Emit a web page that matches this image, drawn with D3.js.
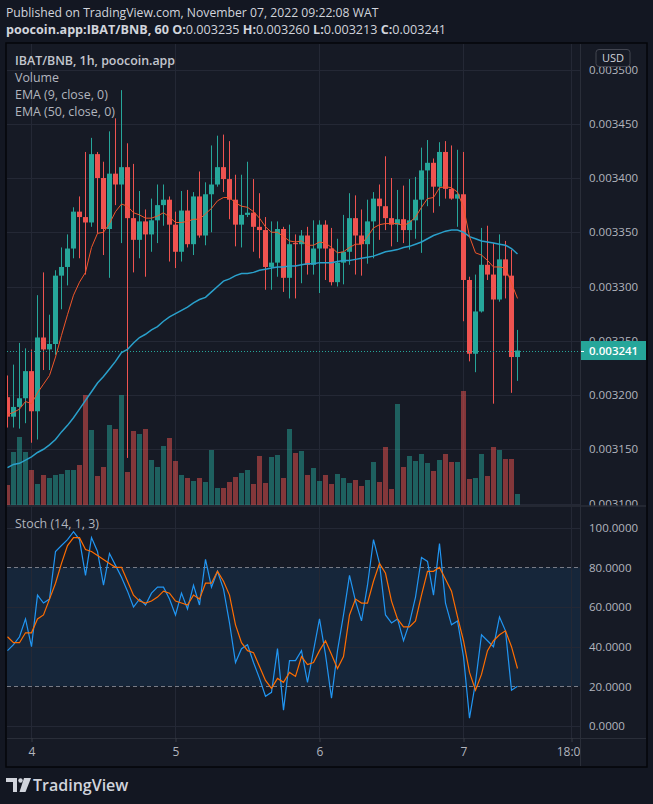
<!DOCTYPE html>
<html><head><meta charset="utf-8">
<script src="https://cdn.jsdelivr.net/npm/d3@7"></script>
<style>
html,body{margin:0;padding:0;background:#131722;}
svg{display:block;}
text{font-family:"Open Sans","Liberation Sans",sans-serif;}
</style></head><body>
<svg id="c" width="653" height="804"></svg>
<script>
// ---- DATA (hourly candles, IBAT/BNB, from Nov 3 20:00 to Nov 7 09:00) ----
const startTime = Date.UTC(2022, 10, 3, 20);
const opens = [0.003198,0.003180,0.003189,0.003197,0.003222,0.003185,0.003253,0.003242,0.003247,0.003310,
0.003318,0.003335,0.003369,0.003364,0.003359,0.003422,0.003400,0.003353,0.003404,0.003394,
0.003410,0.003363,0.003343,0.003360,0.003348,0.003361,0.003375,0.003380,0.003357,0.003332,
0.003370,0.003339,0.003383,0.003347,0.003385,0.003394,0.003410,0.003399,0.003380,0.003357,
0.003366,0.003368,0.003355,0.003352,0.003318,0.003322,0.003353,0.003308,0.003340,0.003339,
0.003347,0.003320,0.003335,0.003357,0.003335,0.003304,0.003322,0.003332,0.003363,0.003347,
0.003339,0.003360,0.003381,0.003374,0.003363,0.003357,0.003362,0.003352,0.003361,0.003380,
0.003407,0.003414,0.003392,0.003424,0.003390,0.003381,0.003385,0.003306,0.003238,0.003277,
0.003320,0.003311,0.003288,0.003325,0.003310,0.003235];
const highs = [0.003218,0.003228,0.003248,0.003243,0.003242,0.003292,0.003313,0.003274,0.003315,0.003336,
0.003348,0.003373,0.003383,0.003424,0.003437,0.003424,0.003415,0.003443,0.003455,0.003481,
0.003432,0.003413,0.003388,0.003371,0.003381,0.003394,0.003394,0.003383,0.003369,0.003388,
0.003389,0.003387,0.003406,0.003396,0.003430,0.003439,0.003440,0.003434,0.003403,0.003403,
0.003415,0.003399,0.003386,0.003364,0.003360,0.003360,0.003355,0.003357,0.003348,0.003352,
0.003355,0.003361,0.003361,0.003361,0.003354,0.003344,0.003366,0.003386,0.003384,0.003371,
0.003380,0.003387,0.003394,0.003420,0.003400,0.003389,0.003393,0.003399,0.003401,0.003428,
0.003435,0.003418,0.003433,0.003434,0.003430,0.003426,0.003424,0.003309,0.003311,0.003354,
0.003356,0.003340,0.003348,0.003342,0.003334,0.003260];
const lows = [0.003170,0.003170,0.003169,0.003174,0.003156,0.003159,0.003223,0.003223,0.003237,0.003279,
0.003301,0.003326,0.003326,0.003311,0.003355,0.003349,0.003329,0.003308,0.003375,0.003340,
0.003142,0.003313,0.003326,0.003309,0.003332,0.003340,0.003356,0.003323,0.003317,0.003323,
0.003336,0.003329,0.003345,0.003338,0.003350,0.003392,0.003387,0.003362,0.003337,0.003336,
0.003364,0.003332,0.003326,0.003297,0.003297,0.003309,0.003295,0.003289,0.003289,0.003303,
0.003311,0.003311,0.003294,0.003306,0.003301,0.003300,0.003302,0.003320,0.003311,0.003310,
0.003321,0.003326,0.003343,0.003352,0.003337,0.003341,0.003340,0.003334,0.003344,0.003331,
0.003374,0.003368,0.003374,0.003381,0.003380,0.003355,0.003268,0.003231,0.003221,0.003276,
0.003306,0.003192,0.003286,0.003289,0.003202,0.003213];
const closes = [0.003180,0.003189,0.003197,0.003222,0.003185,0.003253,0.003242,0.003247,0.003310,0.003318,
0.003335,0.003369,0.003364,0.003359,0.003422,0.003400,0.003353,0.003404,0.003394,0.003410,
0.003363,0.003343,0.003360,0.003348,0.003361,0.003375,0.003380,0.003357,0.003332,0.003370,
0.003339,0.003383,0.003347,0.003385,0.003394,0.003410,0.003399,0.003380,0.003357,0.003366,
0.003368,0.003355,0.003352,0.003318,0.003322,0.003353,0.003308,0.003339,0.003339,0.003347,
0.003320,0.003335,0.003357,0.003335,0.003304,0.003322,0.003332,0.003363,0.003347,0.003339,
0.003360,0.003381,0.003374,0.003363,0.003357,0.003362,0.003352,0.003361,0.003380,0.003407,
0.003414,0.003392,0.003424,0.003390,0.003381,0.003385,0.003306,0.003238,0.003277,0.003320,
0.003311,0.003288,0.003325,0.003310,0.003235,0.003241];
const volumes = [20,53,68,53,35,21,30,27,30,31,35,35,40,110,75,29,38,80,76,110,
33,74,71,76,45,38,59,67,44,30,27,24,27,23,55,17,17,23,28,32,
35,21,49,22,48,50,27,76,52,54,30,37,24,30,21,31,27,22,25,19,
25,43,23,58,16,101,38,49,44,51,42,34,45,51,43,43,114,26,27,51,
29,58,55,46,46,11];
const ema9 = [0.003182,0.003184,0.003187,0.003194,0.003192,0.003202,0.003210,0.003218,0.003235,0.003255,
0.003274,0.003292,0.003304,0.003313,0.003336,0.003349,0.003350,0.003358,0.003369,0.003376,
0.003374,0.003368,0.003366,0.003363,0.003363,0.003365,0.003368,0.003364,0.003359,0.003359,
0.003360,0.003362,0.003362,0.003367,0.003372,0.003379,0.003382,0.003382,0.003377,0.003374,
0.003373,0.003369,0.003363,0.003355,0.003350,0.003350,0.003346,0.003342,0.003341,0.003342,
0.003338,0.003338,0.003341,0.003340,0.003336,0.003331,0.003332,0.003336,0.003339,0.003339,
0.003346,0.003354,0.003357,0.003358,0.003358,0.003358,0.003356,0.003359,0.003364,0.003373,
0.003381,0.003382,0.003391,0.003392,0.003391,0.003387,0.003373,0.003346,0.003331,0.003329,
0.003324,0.003318,0.003318,0.003317,0.003303,0.003289];
const ema50 = [0.003133,0.003136,0.003137,0.003140,0.003143,0.003147,0.003150,0.003154,0.003159,0.003166,
0.003172,0.003179,0.003187,0.003195,0.003203,0.003211,0.003217,0.003224,0.003231,0.003239,
0.003242,0.003248,0.003253,0.003256,0.003260,0.003263,0.003268,0.003272,0.003275,0.003278,
0.003281,0.003285,0.003288,0.003290,0.003295,0.003300,0.003305,0.003307,0.003310,0.003312,
0.003312,0.003313,0.003315,0.003316,0.003317,0.003318,0.003318,0.003319,0.003319,0.003320,
0.003321,0.003321,0.003322,0.003322,0.003322,0.003323,0.003324,0.003324,0.003325,0.003326,
0.003327,0.003328,0.003330,0.003332,0.003333,0.003334,0.003336,0.003337,0.003339,0.003341,
0.003344,0.003347,0.003349,0.003351,0.003352,0.003352,0.003350,0.003346,0.003344,0.003342,
0.003341,0.003340,0.003339,0.003338,0.003335,0.003330];
const stochK = [38,41,45,54,40,66,62,64,88,91,94,98,94,76,95,88,71,87,81,75,
68,60,64,61,67,70,70,64,56,67,59,71,61,84,70,78,69,52,32,39,
41,32,24,15,17,39,8,33,33,38,22,38,54,36,14,38,56,76,63,53,
71,94,82,56,52,54,43,52,65,85,83,66,92,62,51,53,35,4,22,46,
43,40,55,48,18,20];
const stochD = [45,42,42,47,47,54,56,64,72,82,91,95,95,89,88,86,84,82,80,80,
73,66,63,62,63,65,68,67,63,62,61,66,64,72,72,78,73,66,51,42,
38,37,30,23,19,24,22,27,25,35,31,32,38,43,36,29,35,56,64,62,
62,73,82,77,63,54,50,50,53,66,78,78,80,74,68,55,43,27,18,26,
38,43,46,48,40,29];
const priceTicks = [0.0031,0.00315,0.0032,0.00325,0.0033,0.00335,0.0034,0.00345,0.0035];
const stochTicks = [0,20,40,60,80,100];
const timeTicks = [Date.UTC(2022,10,4), Date.UTC(2022,10,5), Date.UTC(2022,10,6), Date.UTC(2022,10,7), Date.UTC(2022,10,7,18)];
const timeTickLabels = ["4","5","6","7","18:00"];
const lastPrice = 0.003241;

// ---- LAYOUT ----
const svg = d3.select("#c");
const L = 7, R = 580, AX = 646;
const pTop = 44, pBot = 505, sTop = 507, sBot = 738, tBot = 766;
const C = {bg:"#131722", pane:"#161a25", grid:"#242835", text:"#b2b5be", up:"#26a69a", down:"#ef5350"};

const rows = opens.map((o,i)=>({t:new Date(startTime + i*3600e3), o, h:highs[i], l:lows[i], c:closes[i], v:volumes[i], e9:ema9[i], e50:ema50[i], k:stochK[i], d:stochD[i]}));

const x = d3.scaleUtc().domain([rows[0].t, rows[rows.length-1].t]).range([7.5, 517.5]);
const y = d3.scaleLinear().domain([0.0031, 0.0035]).range([503.5, 69.5]);
const yv = d3.scaleLinear().domain([0, 120]).range([pBot, pBot-120]);
const ys = d3.scaleLinear().domain([0, 100]).range([726, 527.7]);

// background
svg.append("rect").attr("width",653).attr("height",804).attr("fill",C.bg);
svg.append("rect").attr("x",6).attr("y",43).attr("width",641).attr("height",724).attr("fill",C.pane).attr("stroke","#05060a").attr("stroke-width",1.5);

// header
svg.append("text").attr("x",6).attr("y",17).attr("font-size",12.2).attr("fill","#d1d4dc").text("Published on TradingView.com, November 07, 2022 09:22:08 WAT");
const h2 = svg.append("text").attr("x",6).attr("y",33.5).attr("font-size",12.6).attr("fill","#d1d4dc");
h2.append("tspan").attr("font-weight",700).text("poocoin.app:IBAT/BNB, 60 ");
[["O:",opens[85]],["H:",highs[85]],["L:",lows[85]],["C:",closes[85]]].forEach(([k,v],j)=>{
  h2.append("tspan").attr("font-weight",700).text((j?" ":"")+k);
  h2.append("tspan").text(d3.format(".6f")(v));
});

// clip paths
const defs = svg.append("defs");
defs.append("clipPath").attr("id","cp").append("rect").attr("x",L).attr("y",pTop).attr("width",R-L).attr("height",pBot-pTop);
defs.append("clipPath").attr("id","cs").append("rect").attr("x",L).attr("y",sTop).attr("width",R-L).attr("height",sBot-sTop);
defs.append("clipPath").attr("id","ca").append("rect").attr("x",R).attr("y",pTop).attr("width",AX-R).attr("height",pBot-pTop+1);
defs.append("clipPath").attr("id","ct").append("rect").attr("x",L).attr("y",sBot).attr("width",R-L).attr("height",tBot-sBot);

// ---- PRICE PANE ----
const gp = svg.append("g").attr("clip-path","url(#cp)");
gp.selectAll(".hg").data(priceTicks).join("line").attr("x1",L).attr("x2",R)
  .attr("y1",d=>Math.round(y(d))+0.5).attr("y2",d=>Math.round(y(d))+0.5).attr("stroke",C.grid);
gp.selectAll(".vg").data(timeTicks).join("line").attr("y1",pTop).attr("y2",pBot)
  .attr("x1",d=>Math.floor(x(d))+0.5).attr("x2",d=>Math.floor(x(d))+0.5).attr("stroke",C.grid);
// volume
gp.selectAll(".vol").data(rows).join("rect")
  .attr("x",d=>x(d.t)-2.5).attr("width",5)
  .attr("y",d=>yv(d.v)).attr("height",d=>yv(0)-yv(d.v))
  .attr("fill",d=>d.c>=d.o?C.up:C.down).attr("fill-opacity",0.5);
// candles
const cg = gp.selectAll(".cd").data(rows).join("g");
cg.append("line").attr("x1",d=>x(d.t)).attr("x2",d=>x(d.t)).attr("y1",d=>y(d.h)).attr("y2",d=>y(d.l))
  .attr("stroke",d=>d.c>=d.o?C.up:C.down).attr("stroke-width",1);
cg.append("rect").attr("x",d=>x(d.t)-2.5).attr("width",5)
  .attr("y",d=>y(Math.max(d.o,d.c))).attr("height",d=>Math.max(1,Math.abs(y(d.o)-y(d.c))))
  .attr("fill",d=>d.c>=d.o?C.up:C.down);
// EMAs
gp.append("path").datum(rows).attr("fill","none").attr("stroke","#2aa0cb").attr("stroke-width",1.5)
  .attr("d",d3.line().x(d=>x(d.t)).y(d=>y(d.e50)));
gp.append("path").datum(rows).attr("fill","none").attr("stroke","#f0562a").attr("stroke-width",1)
  .attr("d",d3.line().x(d=>x(d.t)).y(d=>y(d.e9)));
// last price dotted line
gp.append("line").attr("x1",L).attr("x2",R).attr("y1",Math.round(y(lastPrice))+0.5).attr("y2",Math.round(y(lastPrice))+0.5)
  .attr("stroke",C.up).attr("stroke-dasharray","1,2");

// legend
const leg = svg.append("g").attr("font-size",12.4).attr("fill",C.text);
leg.append("text").attr("x",15).attr("y",64.5).attr("font-weight",600).attr("fill","#c3c6ce").text("IBAT/BNB, 1h, poocoin.app");
["Volume","EMA (9, close, 0)","EMA (50, close, 0)"].forEach((t,i)=>leg.append("text").attr("x",15).attr("y",81.5+i*17).text(t));

// price axis (outer group clipped in page coordinates)
const paxWrap = svg.append("g").attr("clip-path","url(#ca)");
const pax = paxWrap.append("g").attr("transform",`translate(${R},0)`)
  .call(d3.axisRight(y).tickValues(priceTicks).tickFormat(d3.format(".6f")).tickSize(0).tickPadding(9));
pax.select(".domain").remove();
pax.selectAll("text").attr("fill",C.text).attr("font-size",11.5).attr("font-family",'"Open Sans",sans-serif');
// USD box
svg.append("rect").attr("x",596).attr("y",49.5).attr("width",34).attr("height",17).attr("rx",3)
  .attr("fill",C.pane).attr("stroke","#434651");
svg.append("text").attr("x",613).attr("y",62).attr("text-anchor","middle").attr("font-size",11).attr("fill","#d1d4dc").text("USD");
// last price label
const ly = y(lastPrice);
svg.append("rect").attr("x",R).attr("y",ly-9.5).attr("width",AX-R).attr("height",19).attr("fill",C.up);
svg.append("text").attr("x",589).attr("y",ly+4.5).attr("font-size",11.5).attr("font-weight",600).attr("fill","#ffffff").text(d3.format(".6f")(lastPrice));
svg.append("line").attr("x1",R).attr("x2",R+4).attr("y1",Math.round(ly)+0.5).attr("y2",Math.round(ly)+0.5).attr("stroke","#ffffff");

// ---- STOCH PANE ----
const gs = svg.append("g").attr("clip-path","url(#cs)");
gs.append("rect").attr("x",L).attr("width",R-L).attr("y",ys(80)).attr("height",ys(20)-ys(80)).attr("fill","rgba(33,150,243,0.1)");
gs.selectAll(".sg").data([0,40,60,100]).join("line").attr("x1",L).attr("x2",R)
  .attr("y1",d=>Math.round(ys(d))+0.5).attr("y2",d=>Math.round(ys(d))+0.5).attr("stroke",C.grid);
gs.selectAll(".vg2").data(timeTicks).join("line").attr("y1",sTop).attr("y2",sBot)
  .attr("x1",d=>Math.floor(x(d))+0.5).attr("x2",d=>Math.floor(x(d))+0.5).attr("stroke",C.grid);
gs.selectAll(".band").data([20,80]).join("line").attr("x1",L).attr("x2",R)
  .attr("y1",d=>Math.round(ys(d))+0.5).attr("y2",d=>Math.round(ys(d))+0.5)
  .attr("stroke","#787b86").attr("stroke-dasharray","4,3");
gs.append("path").datum(rows).attr("fill","none").attr("stroke","#2196f3").attr("stroke-width",1.2)
  .attr("d",d3.line().x(d=>x(d.t)).y(d=>ys(d.k)));
gs.append("path").datum(rows).attr("fill","none").attr("stroke","#ff6d00").attr("stroke-width",1.2)
  .attr("d",d3.line().x(d=>x(d.t)).y(d=>ys(d.d)));
svg.append("text").attr("x",15).attr("y",527.5).attr("font-size",12.4).attr("fill",C.text).text("Stoch (14, 1, 3)");
const sax = svg.append("g").attr("transform",`translate(${R},0)`)
  .call(d3.axisRight(ys).tickValues(stochTicks).tickFormat(d3.format(".4f")).tickSize(0).tickPadding(9));
sax.select(".domain").remove();
sax.selectAll("text").attr("fill",C.text).attr("font-size",11.5).attr("font-family",'"Open Sans",sans-serif');

// ---- separators ----
svg.append("line").attr("x1",R+0.5).attr("x2",R+0.5).attr("y1",pTop).attr("y2",tBot).attr("stroke","#2a2e39");
svg.append("line").attr("x1",L).attr("x2",AX).attr("y1",506).attr("y2",506).attr("stroke","#2a2e39").attr("stroke-width",1.5);
svg.append("line").attr("x1",L).attr("x2",AX).attr("y1",sBot+0.5).attr("y2",sBot+0.5).attr("stroke","#2a2e39");

// time axis
const taxWrap = svg.append("g").attr("clip-path","url(#ct)");
const tax = taxWrap.append("g").attr("transform",`translate(0,${sBot})`)
  .call(d3.axisBottom(x).tickValues(timeTicks.map(t=>new Date(t))).tickFormat((d,i)=>timeTickLabels[i]).tickSize(4).tickPadding(5));
tax.select(".domain").remove();
tax.selectAll("line").attr("stroke","#363a45");
tax.selectAll("text").attr("fill",C.text).attr("font-size",12).attr("font-family",'"Open Sans",sans-serif');

// ---- TradingView logo ----
const lg = svg.append("g").attr("fill","#d1d4dc");
lg.append("path").attr("d","M6,778 H17 V792 H13 V782 H6 Z");
lg.append("circle").attr("cx",20.5).attr("cy",780.5).attr("r",2.2);
lg.append("path").attr("d","M24,778 H31 L25.5,792 H19.5 Z");
lg.append("text").attr("x",33).attr("y",791).attr("font-size",16).attr("font-weight",600).attr("fill","#d1d4dc").text("TradingView");
</script>
</body></html>
